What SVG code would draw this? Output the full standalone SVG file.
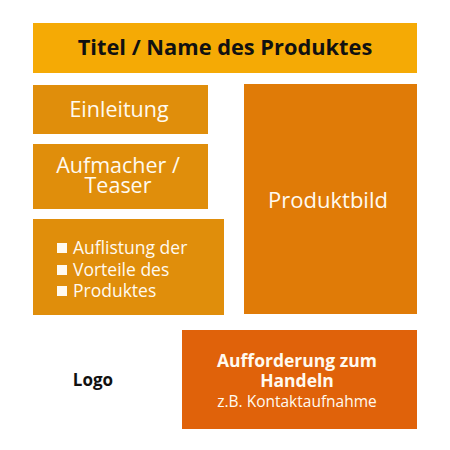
<svg xmlns="http://www.w3.org/2000/svg" width="450" height="450" viewBox="0 0 450 450">
<style>
text{font-family:"Open Sans","Noto Sans","Liberation Sans",sans-serif;text-anchor:middle}
.w{fill:#fffaf0}
.r{font-size:21.5px}
.b{font-weight:bold}
.l{text-anchor:start;font-size:17.5px}
</style>
<rect width="450" height="450" fill="#ffffff"/>
<g id="title">
<rect x="33" y="23" width="384" height="50" fill="#F5AA05"/>
<text x="225" y="55" class="b" font-size="21.8" fill="#111111">Titel / Name des Produktes</text>
</g>
<g id="einleitung">
<rect x="33" y="85" width="175" height="49" fill="#E08E0B"/>
<text x="119" y="117" class="r w">Einleitung</text>
</g>
<g id="aufmacher">
<rect x="33" y="144" width="175" height="65" fill="#E08E0B"/>
<text x="118" y="173" class="r w">Aufmacher /</text>
<text x="118" y="193" class="r w">Teaser</text>
</g>
<g id="vorteile">
<rect x="33" y="219" width="191" height="96" fill="#E08E0B"/>
<rect x="57" y="243" width="10" height="10" fill="#fffaf0"/>
<rect x="57" y="265" width="10" height="10" fill="#fffaf0"/>
<rect x="57" y="286" width="10" height="10" fill="#fffaf0"/>
<text x="73" y="254" class="l w">Auflistung der</text>
<text x="73" y="276" class="l w">Vorteile des</text>
<text x="73" y="297" class="l w">Produktes</text>
</g>
<g id="produktbild">
<rect x="244" y="84" width="173" height="230" fill="#E07B07"/>
<text x="328" y="208" class="w" font-size="22">Produktbild</text>
</g>
<g id="aufforderung">
<rect x="182" y="330" width="235" height="99" fill="#E0620A"/>
<text x="297" y="367" class="b w" font-size="17.5">Aufforderung zum</text>
<text x="297" y="387" class="b w" font-size="17.5">Handeln</text>
<text x="297" y="407" class="w" font-size="15.5">z.B. Kontaktaufnahme</text>
</g>
<g id="logo">
<text x="93" y="386" class="b" font-size="17" fill="#111111">Logo</text>
</g>
<g id="connectors"/>
</svg>
